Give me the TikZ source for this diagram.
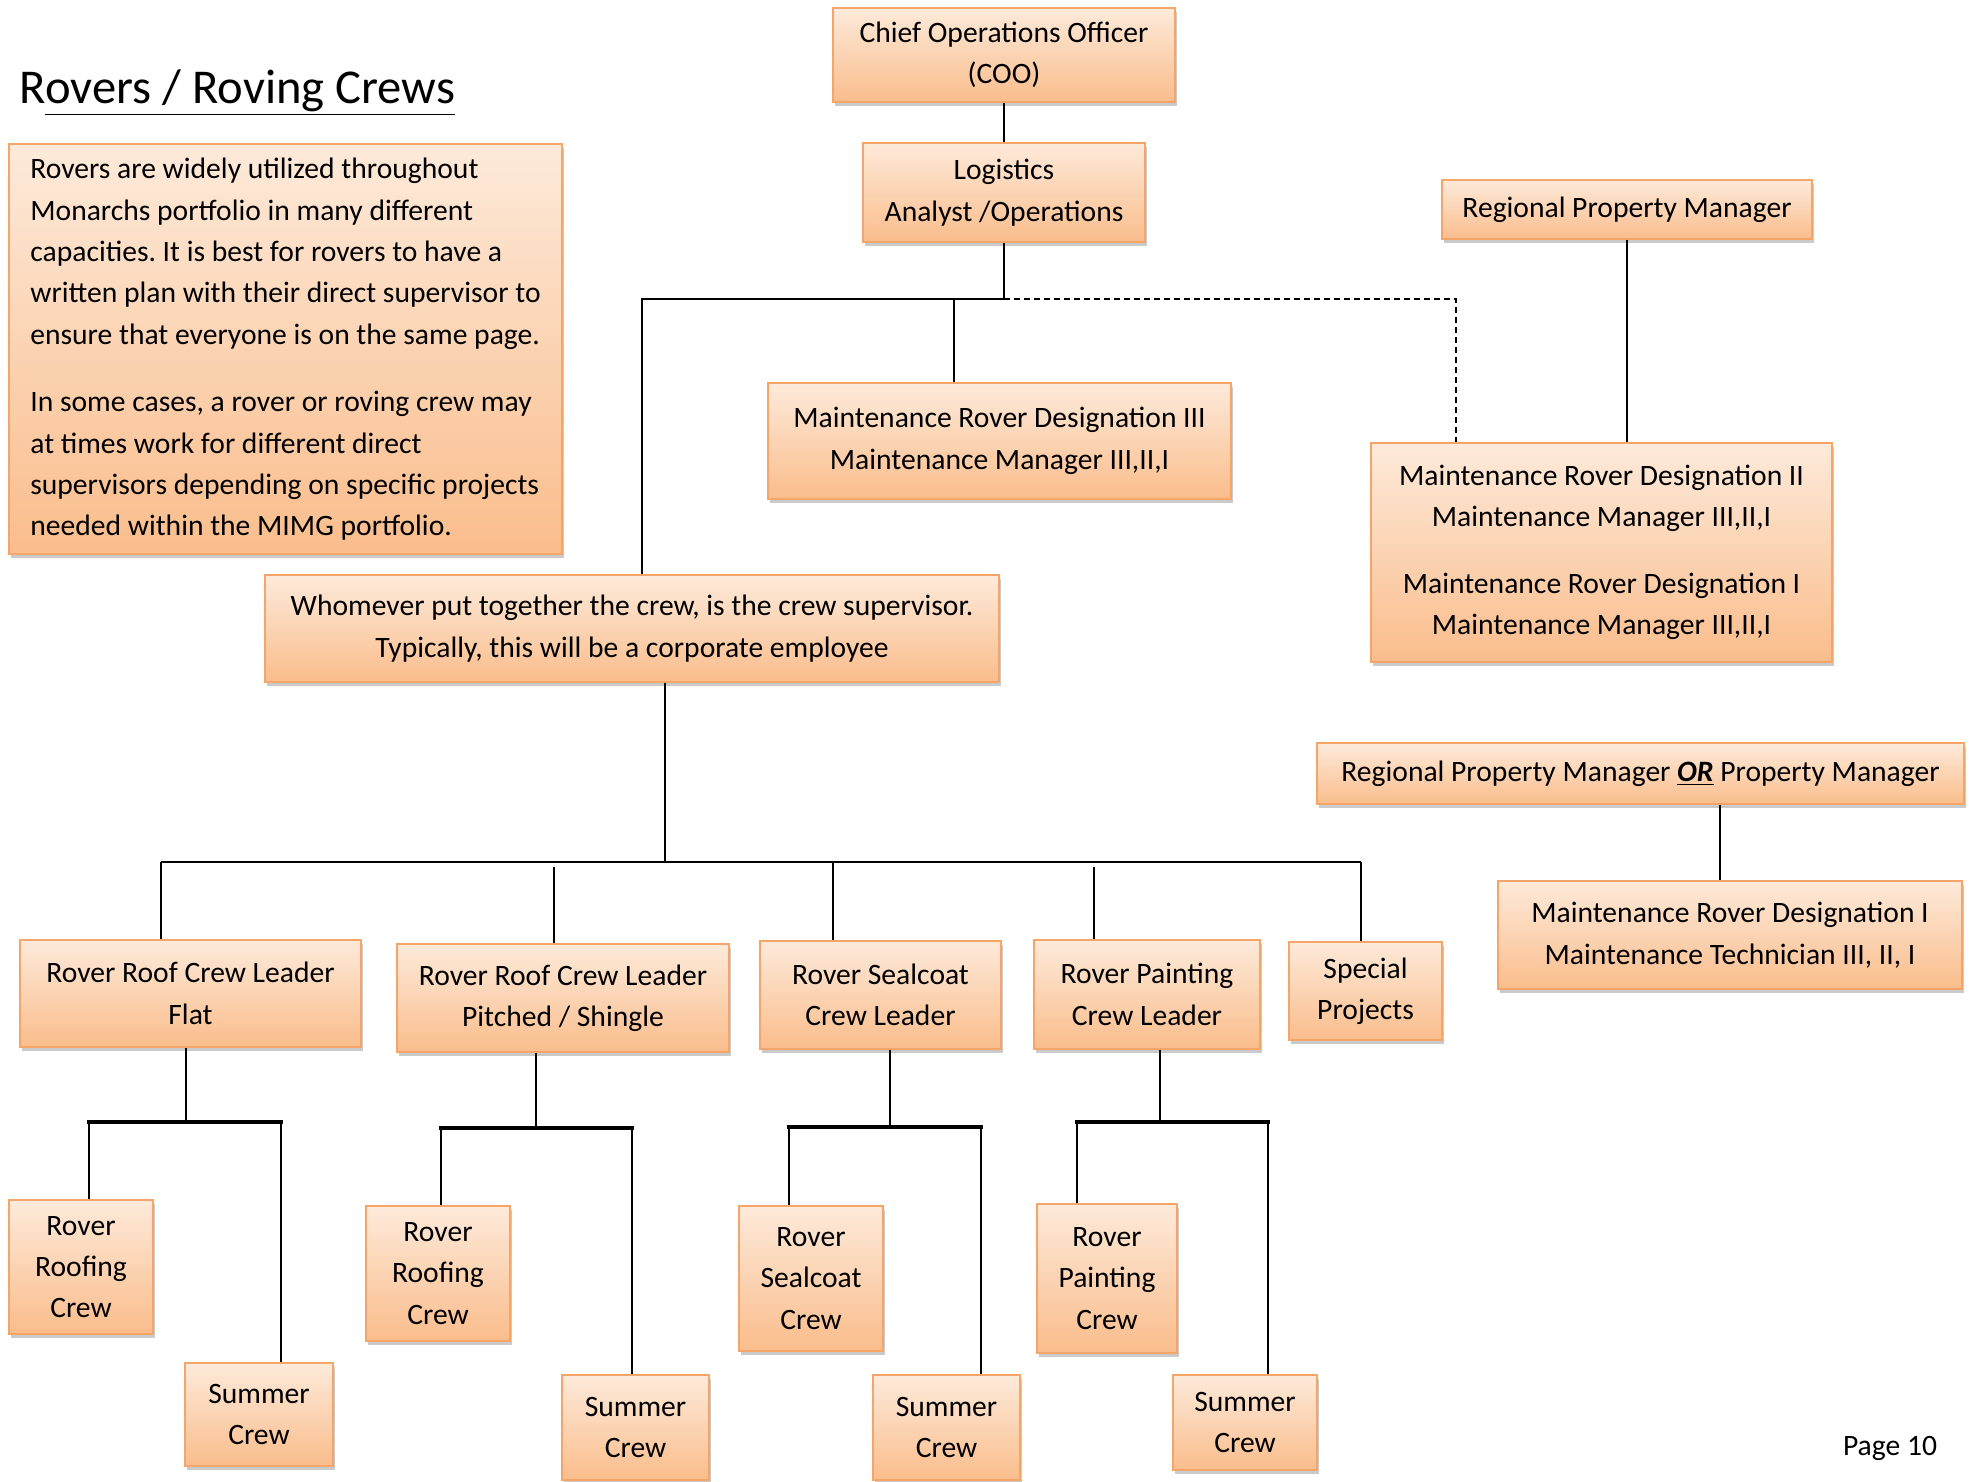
\documentclass[tikz,border=0pt]{standalone}
\usepackage{fontspec}
\setmainfont{Carlito}
\frenchspacing
\usetikzlibrary{shadows}
\definecolor{orT}{RGB}{253,234,218}
\definecolor{orB}{RGB}{250,189,140}
\definecolor{orD}{RGB}{246,165,105}
\tikzset{
 obox/.style={draw=orD, line width=0.6bp, top color=orT, bottom color=orB, inner sep=0pt,
   align=center, font=\fontsize{14.8bp}{20.7bp}\selectfont,
   drop shadow={shadow xshift=0.8bp, shadow yshift=-2.2bp, opacity=0.35, fill=black!60}},
 ln/.style={line width=1.1bp, black},
 thn/.style={line width=0.75bp, black},
 thk/.style={line width=1.9bp, black, line cap=rect},
 dsh/.style={line width=0.8bp, black, dash pattern=on 3bp off 2bp},
}
\newcommand\bx[6]{%
 \pgfmathsetmacro\bw{(#4-#2)*0.5}%
 \pgfmathsetmacro\bh{(#5-#3)*0.5}%
 \node[obox, minimum width=\bw bp, minimum height=\bh bp] (#1) at ({(#2+#4)/2},{(#3+#5)/2}) {#6};}
\newcommand\crewtree[8]{%
 \coordinate (#8m) at (#4,#5);
 \coordinate (#8l) at (#6,#5);
 \coordinate (#8r) at (#7,#5);
 \draw[thn] (#8m |- #1.south) -- (#8m);
 \draw[thk] (#8l) -- (#8r);
 \draw[thn] (#8l) -- (#8l |- #2.north);
 \draw[thn] (#8r) -- (#8r |- #3.north);
}
\begin{document}
\begin{tikzpicture}[x=0.5bp,y=-0.5bp]
\useasboundingbox (0,0) rectangle (1970,1481);

\node[anchor=base west, font=\fontsize{24.3bp}{28bp}\selectfont] (title) at (12,103) {R\underline{overs / Roving Crews}};

\bx{coo}{833}{8}{1175}{102}{Chief Operations Officer\\(COO)}
\bx{log}{863}{143}{1145}{242}{Logistics\\Analyst /Operations}
\bx{rpm}{1442}{180}{1812}{239}{Regional Property Manager}
\bx{info}{9}{144}{562}{554}{\begin{tabular}{@{}l@{}}Rovers are widely utilized throughout\\Monarchs portfolio in many different\\capacities. It is best for rovers to have a\\written plan with their direct supervisor to\\ensure that everyone is on the same page.\\[13bp]In some cases, a rover or roving crew may\\at times work for different direct\\supervisors depending on specific projects\\needed within the MIMG portfolio.\end{tabular}}
\bx{m3}{768}{383}{1231}{499}{Maintenance Rover Designation III\\Maintenance Manager III,II,I}
\bx{m2}{1371}{443}{1832}{662}{Maintenance Rover Designation II\\Maintenance Manager III,II,I\\[12.5bp]Maintenance Rover Designation I\\Maintenance Manager III,II,I}
\bx{wh}{265}{575}{999}{682}{Whomever put together the crew, is the crew supervisor.\\Typically, this will be a corporate employee}
\bx{rpm2}{1317}{743}{1964}{804}{Regional Property Manager \underline{\textbf{\textit{OR}}} Property Manager}
\bx{mt}{1498}{881}{1962}{989}{Maintenance Rover Designation I\\Maintenance Technician III, II, I}

\bx{l1}{20}{940}{361}{1047}{Rover Roof Crew Leader\\Flat}
\bx{l2}{397}{944}{729}{1052}{Rover Roof Crew Leader\\Pitched / Shingle}
\bx{l3}{760}{941}{1001}{1049}{Rover Sealcoat\\Crew Leader}
\bx{l4}{1034}{940}{1260}{1049}{Rover Painting\\Crew Leader}
\bx{l5}{1289}{942}{1442}{1040}{Special\\Projects}

\bx{c1}{9}{1200}{153}{1334}{Rover\\Roofing\\Crew}
\bx{s1}{185}{1363}{333}{1466}{Summer\\Crew}
\bx{c2}{366}{1206}{510}{1341}{Rover\\Roofing\\Crew}
\bx{s2}{562}{1375}{709}{1480}{Summer\\Crew}
\bx{c3}{739}{1206}{883}{1351}{Rover\\Sealcoat\\Crew}
\bx{s3}{873}{1375}{1020}{1480}{Summer\\Crew}
\bx{c4}{1037}{1204}{1177}{1353}{Rover\\Painting\\Crew}
\bx{s4}{1173}{1375}{1317}{1470}{Summer\\Crew}

\node[anchor=base east, font=\fontsize{14.8bp}{17bp}\selectfont] (page) at (1944,1455) {Page 10};

% upper connectors
\coordinate (ya) at (0,299);
\coordinate (xa) at (642,299);
\coordinate (xb) at (954,299);
\coordinate (xc) at (1456,299);
\draw[ln] (coo) -- (log);
\draw[ln] (log.south) -- (log.south |- ya);
\draw[ln] (log.south |- ya) -- (xa) -- (xa |- wh.north);
\draw[thn] (xb) -- (xb |- m3.north);
\draw[dsh] (log.south |- ya) -- (xc) -- (xc |- m2.north);
\draw[ln] (rpm.south) -- (rpm.south |- m2.north);
\coordinate (xd) at (1720,0);
\draw[thn] (xd |- rpm2.south) -- (xd |- mt.north);

% crew supervisor tree
\coordinate (yb) at (0,862);
\coordinate (xe) at (665,0);
\draw[ln] (xe |- wh.south) -- (xe |- yb);
\coordinate (hl) at (161,862);
\coordinate (hr) at (1361,862);
\draw[ln] (hl) -- (hr);
\draw[ln] (hl) -- (hl |- l1.north);
\coordinate (d2) at (554,867);
\draw[thn] (d2) -- (d2 |- l2.north);
\coordinate (d3) at (833,862);
\draw[ln] (d3) -- (d3 |- l3.north);
\coordinate (d4) at (1094,867);
\draw[thn] (d4) -- (d4 |- l4.north);
\draw[ln] (hr) -- (hr |- l5.north);

% crews
\crewtree{l1}{c1}{s1}{186}{1122}{89}{281}{ta}
\crewtree{l2}{c2}{s2}{536}{1128}{441}{632}{tb}
\crewtree{l3}{c3}{s3}{890}{1127}{789}{981}{tc}
\crewtree{l4}{c4}{s4}{1160}{1122}{1077}{1268}{td}
\end{tikzpicture}
\end{document}
